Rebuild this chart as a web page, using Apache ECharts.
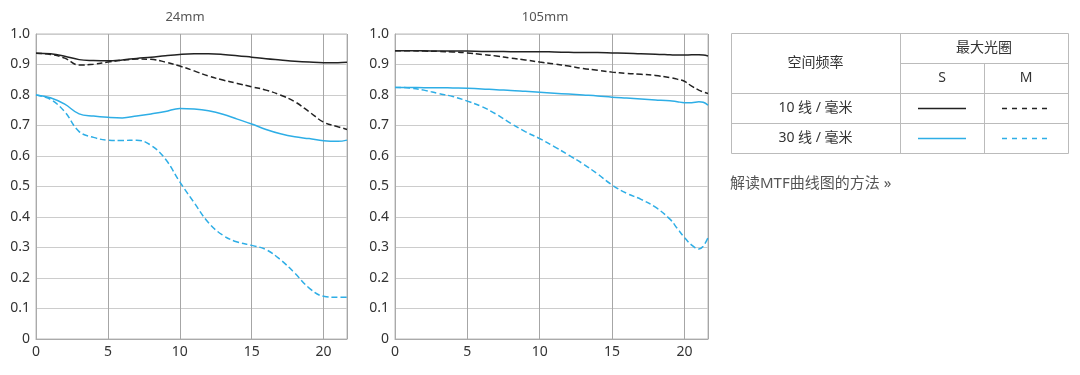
<!DOCTYPE html>
<html>
<head>
<meta charset="utf-8">
<script src="https://cdn.jsdelivr.net/npm/echarts@6/dist/echarts.min.js"></script>
<style>
  html, body { margin: 0; padding: 0; background: #fff; }
  #chart { width: 1080px; height: 375px; }
</style>
</head>
<body>
<div id="chart"></div>
<script>
// 空间频率 (mm from image centre)
const xs24 = [0, 1, 2, 3, 4, 5, 6, 7, 8, 9, 10, 11, 12, 13, 14, 15, 16, 17, 18, 19, 20, 21, 21.63]
const xs105 = [0, 1, 2, 3, 4, 5, 6, 7, 8, 9, 10, 11, 12, 13, 14, 15, 16, 17, 18, 19, 19.5, 20, 20.5, 21, 21.3, 21.63]

// 24mm
const s10_24 = [0.937, 0.935, 0.927, 0.916, 0.913, 0.912, 0.915, 0.92, 0.924, 0.929, 0.933, 0.935, 0.935, 0.933, 0.929, 0.924, 0.919, 0.915, 0.911, 0.908, 0.906, 0.906, 0.907]
const m10_24 = [0.937, 0.933, 0.921, 0.898, 0.901, 0.908, 0.914, 0.918, 0.917, 0.908, 0.895, 0.879, 0.862, 0.849, 0.838, 0.827, 0.816, 0.8, 0.778, 0.745, 0.711, 0.696, 0.687]
const s30_24 = [0.8, 0.791, 0.77, 0.738, 0.731, 0.727, 0.725, 0.731, 0.738, 0.746, 0.756, 0.754, 0.748, 0.737, 0.721, 0.705, 0.687, 0.673, 0.663, 0.657, 0.65, 0.648, 0.652]
const m30_24 = [0.8, 0.786, 0.745, 0.68, 0.661, 0.652, 0.651, 0.652, 0.635, 0.59, 0.515, 0.447, 0.381, 0.34, 0.318, 0.307, 0.293, 0.26, 0.216, 0.167, 0.14, 0.137, 0.137]

// 105mm
const s10_105 = [0.945, 0.945, 0.945, 0.944, 0.944, 0.944, 0.943, 0.943, 0.942, 0.942, 0.942, 0.941, 0.94, 0.939, 0.939, 0.938, 0.937, 0.935, 0.934, 0.932, 0.931, 0.931, 0.932, 0.932, 0.931, 0.928]
const m10_105 = [0.945, 0.945, 0.944, 0.943, 0.941, 0.938, 0.933, 0.928, 0.921, 0.915, 0.908, 0.902, 0.895, 0.887, 0.881, 0.875, 0.871, 0.868, 0.864, 0.857, 0.852, 0.845, 0.829, 0.816, 0.81, 0.805]
const s30_105 = [0.825, 0.825, 0.824, 0.824, 0.823, 0.822, 0.82, 0.817, 0.815, 0.812, 0.809, 0.806, 0.803, 0.8, 0.797, 0.793, 0.79, 0.787, 0.784, 0.781, 0.778, 0.775, 0.775, 0.778, 0.776, 0.767]
const m30_105 = [0.825, 0.823, 0.816, 0.805, 0.795, 0.78, 0.762, 0.737, 0.707, 0.68, 0.657, 0.631, 0.603, 0.574, 0.541, 0.505, 0.478, 0.458, 0.432, 0.393, 0.363, 0.333, 0.308, 0.295, 0.304, 0.332]

const titles = ['24mm', '105mm']
const xMax = 21.63

const BLACK = '#222222'
const BLUE = '#2eaee6'
const FONT = '"Noto Sans", "Noto Sans CJK SC", sans-serif'

function pairs(xs, ys) {
  return xs.map((x, i) => [x, ys[i]])
}

function lineSeries(idx, xs, ys, color, dashed) {
  return {
    type: 'line',
    xAxisIndex: idx,
    yAxisIndex: idx,
    smooth: 0.4,
    showSymbol: false,
    lineStyle: { color: color, width: 1.5, type: dashed ? [6, 3] : 'solid' },
    data: pairs(xs, ys)
  }
}

function xAxisOf(idx) {
  return {
    type: 'value',
    gridIndex: idx,
    min: 0,
    max: xMax,
    interval: 5,
    axisLine: { show: true, lineStyle: { color: '#aaaaaa' } },
    axisTick: { show: false },
    splitLine: { show: true, lineStyle: { color: '#a6a6a6' } },
    axisLabel: {
      color: '#333', fontSize: 14, fontFamily: FONT, margin: 6,
      showMaxLabel: false,
      formatter: v => (v % 5 === 0 ? String(v) : '')
    }
  }
}

function yAxisOf(idx) {
  return {
    type: 'value',
    gridIndex: idx,
    min: 0,
    max: 1,
    interval: 0.1,
    axisLine: { show: true, lineStyle: { color: '#aaaaaa' } },
    axisTick: { show: false },
    splitLine: { show: true, lineStyle: { color: '#cccccc' } },
    axisLabel: {
      color: '#333', fontSize: 14, fontFamily: FONT, margin: 6,
      formatter: v => (v === 0 ? '0' : v.toFixed(1))
    }
  }
}

// 表格 (图例)
const tblLeft = 731, tblRight = 1068, tblTop = 33, colA = 900, colB = 984
const rowH = 30
const lineColor = '#bbbbbb'
const txt = (x, y, text, extra) => ({
  type: 'text', x: x, y: y,
  style: Object.assign({ text: text, fill: '#333', font: '14px ' + FONT, align: 'center', verticalAlign: 'middle' }, extra || {})
})
const hline = (x1, x2, y) => ({ type: 'line', shape: { x1: x1, y1: y + 0.5, x2: x2, y2: y + 0.5 }, style: { stroke: lineColor, lineWidth: 1 } })
const vline = (x, y1, y2) => ({ type: 'line', shape: { x1: x + 0.5, y1: y1, x2: x + 0.5, y2: y2 }, style: { stroke: lineColor, lineWidth: 1 } })
const sample = (x1, x2, y, color, dashed) => ({
  type: 'line', shape: { x1: x1, y1: y + 0.5, x2: x2, y2: y + 0.5 },
  style: { stroke: color, lineWidth: 1.5, lineDash: dashed ? [5, 5] : null }
})

const tableGraphic = [
  { type: 'rect', shape: { x: tblLeft + 0.5, y: tblTop + 0.5, width: tblRight - tblLeft, height: rowH * 4 }, style: { fill: 'none', stroke: lineColor, lineWidth: 1 } },
  hline(colA, tblRight, tblTop + rowH),
  hline(tblLeft, tblRight, tblTop + rowH * 2),
  hline(tblLeft, tblRight, tblTop + rowH * 3),
  vline(colA, tblTop, tblTop + rowH * 4),
  vline(colB, tblTop + rowH, tblTop + rowH * 4),
  txt((tblLeft + colA) / 2, tblTop + rowH, '空间频率'),
  txt((colA + tblRight) / 2, tblTop + rowH / 2, '最大光圈'),
  txt((colA + colB) / 2, tblTop + rowH * 1.5, 'S'),
  txt((colB + tblRight) / 2, tblTop + rowH * 1.5, 'M'),
  txt((tblLeft + colA) / 2, tblTop + rowH * 2.5, '10 线 / 毫米'),
  txt((tblLeft + colA) / 2, tblTop + rowH * 3.5, '30 线 / 毫米'),
  sample(918, 966, tblTop + rowH * 2.5, BLACK, false),
  sample(1002, 1048, tblTop + rowH * 2.5, BLACK, true),
  sample(918, 966, tblTop + rowH * 3.5, BLUE, false),
  sample(1002, 1048, tblTop + rowH * 3.5, BLUE, true),
  txt(730, 184, '解读MTF曲线图的方法 »', { align: 'left', fill: '#555', font: '15px ' + FONT })
]

const chart = echarts.init(document.getElementById('chart'))

chart.setOption({
  animation: false,
  title: [
    { text: titles[0], left: 180, top: 6, textAlign: 'center', textStyle: { fontSize: 13, fontWeight: 'normal', color: '#555', fontFamily: FONT } },
    { text: titles[1], left: 540, top: 6, textAlign: 'center', textStyle: { fontSize: 13, fontWeight: 'normal', color: '#555', fontFamily: FONT } }
  ],
  grid: [
    { left: 36, top: 34, width: 311, height: 305, show: true, borderColor: '#bbbbbb', borderWidth: 1 },
    { left: 395, top: 34, width: 313, height: 305, show: true, borderColor: '#bbbbbb', borderWidth: 1 }
  ],
  xAxis: [xAxisOf(0), xAxisOf(1)],
  yAxis: [yAxisOf(0), yAxisOf(1)],
  series: [
    lineSeries(0, xs24, s10_24, BLACK, false),
    lineSeries(0, xs24, m10_24, BLACK, true),
    lineSeries(0, xs24, s30_24, BLUE, false),
    lineSeries(0, xs24, m30_24, BLUE, true),
    lineSeries(1, xs105, s10_105, BLACK, false),
    lineSeries(1, xs105, m10_105, BLACK, true),
    lineSeries(1, xs105, s30_105, BLUE, false),
    lineSeries(1, xs105, m30_105, BLUE, true)
  ],
  graphic: tableGraphic
})
</script>
</body>
</html>
